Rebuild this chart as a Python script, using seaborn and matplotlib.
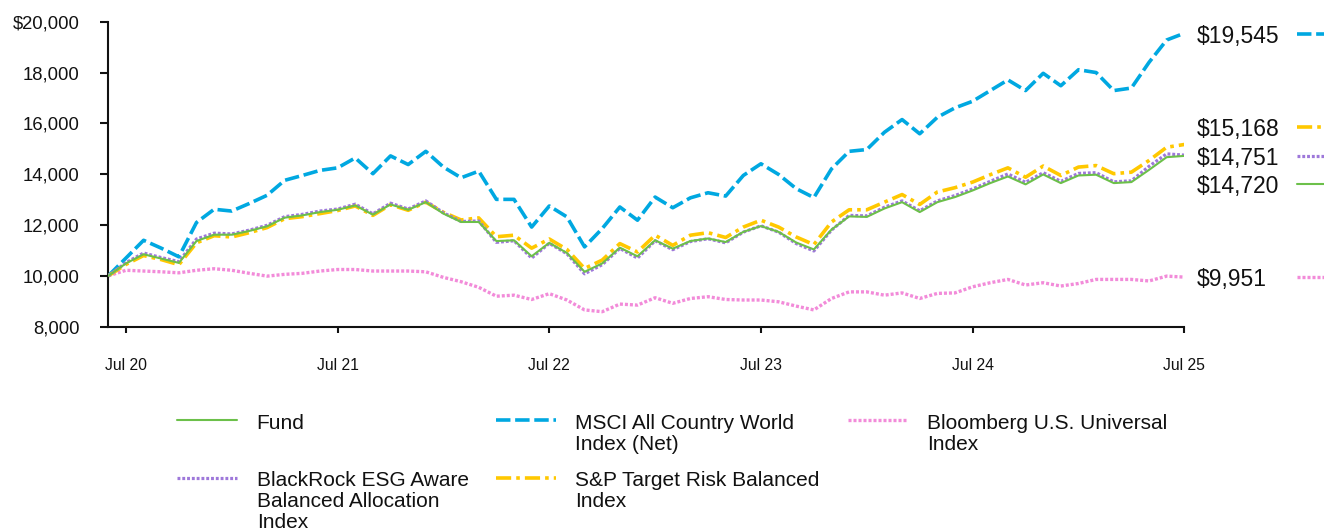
import numpy as np
import pandas as pd
import matplotlib
matplotlib.use("Agg")
import matplotlib.pyplot as plt
from matplotlib.lines import Line2D
from matplotlib.transforms import blended_transform_factory
import seaborn as sns

# ---------------- data ----------------
months = pd.date_range("2020-06-30", periods=62, freq="ME")

fund = [10000, 10490, 10850, 10680, 10510, 11370, 11620, 11620, 11770, 11950,
        12290, 12380, 12510, 12600, 12770, 12410, 12810, 12600, 12900, 12450,
        12120, 12120, 11370, 11400, 10770, 11300, 10900, 10160, 10490, 11110,
        10770, 11400, 11070, 11370, 11470, 11330, 11730, 11960, 11730, 11310,
        11040, 11820, 12340, 12320, 12650, 12900, 12510, 12900, 13100, 13360,
        13650, 13910, 13600, 13990, 13650, 13950, 13980, 13650, 13690, 14170,
        14670, 14720]

msci = [10000, 10700, 11400, 11090, 10750, 12100, 12620, 12550, 12850, 13170,
        13760, 13950, 14150, 14250, 14640, 14020, 14720, 14380, 14900, 14280,
        13860, 14120, 13010, 13010, 11920, 12750, 12320, 11140, 11860, 12710,
        12190, 13100, 12680, 13070, 13270, 13140, 13950, 14410, 13990, 13430,
        13080, 14210, 14900, 14970, 15650, 16150, 15590, 16240, 16610, 16870,
        17290, 17710, 17290, 17970, 17480, 18110, 18000, 17290, 17390, 18400,
        19280, 19545]

bloomberg = [10000, 10220, 10190, 10160, 10120, 10220, 10280, 10220, 10100, 9990,
             10060, 10100, 10190, 10250, 10250, 10190, 10190, 10190, 10160, 9940,
             9770, 9550, 9200, 9240, 9070, 9300, 9050, 8660, 8590, 8890,
             8850, 9140, 8920, 9110, 9180, 9070, 9050, 9050, 8980, 8810,
             8660, 9110, 9370, 9370, 9240, 9330, 9110, 9310, 9330, 9570,
             9730, 9860, 9640, 9730, 9600, 9700, 9860, 9860, 9860, 9800,
             9990, 9951]

blackrock = [10000, 10520, 10900, 10720, 10560, 11450, 11680, 11650, 11800, 11990,
             12330, 12420, 12550, 12630, 12820, 12440, 12860, 12630, 12950, 12480,
             12140, 12160, 11320, 11380, 10700, 11280, 10870, 10080, 10440, 11080,
             10700, 11380, 11030, 11350, 11460, 11300, 11720, 11970, 11720, 11270,
             10980, 11800, 12380, 12360, 12700, 12950, 12560, 12950, 13160, 13420,
             13720, 14010, 13680, 14060, 13720, 14030, 14060, 13700, 13740, 14310,
             14800, 14751]

sp_balanced = [10000, 10450, 10800, 10640, 10440, 11300, 11580, 11530, 11700, 11900,
               12250, 12330, 12450, 12570, 12750, 12380, 12800, 12580, 12900, 12500,
               12200, 12280, 11540, 11600, 11090, 11450, 11040, 10290, 10620, 11270,
               10940, 11600, 11200, 11600, 11700, 11510, 11920, 12190, 11920, 11530,
               11230, 12120, 12600, 12600, 12900, 13200, 12810, 13300, 13470, 13690,
               13980, 14250, 13880, 14320, 13950, 14280, 14340, 14020, 14080, 14540,
               15060, 15168]

series_names = ["Fund", "MSCI All Country World\nIndex (Net)",
                "Bloomberg U.S. Universal\nIndex",
                "BlackRock ESG Aware\nBalanced Allocation\nIndex",
                "S&P Target Risk Balanced\nIndex"]
end_labels = ["$14,720", "$19,545", "$9,951", "$14,751", "$15,168"]
end_label_pos = [13600, 19510, 9960, 14710, 15850]

ytick_values = [8000, 10000, 12000, 14000, 16000, 18000, 20000]
ytick_labels = ["8,000", "10,000", "12,000", "14,000", "16,000", "18,000", "$20,000"]
xtick_labels = ["Jul 20", "Jul 21", "Jul 22", "Jul 23", "Jul 24", "Jul 25"]

# ---------------- styles ----------------
GREEN = "#6CC04A"
BLUE = "#00A8E1"
PINK = "#F28BD9"
PURPLE = "#9E78DA"
YELLOW = "#FFC800"

styles = {
    "fund": dict(color=GREEN, lw=1.5, ls="-", z=6),
    "msci": dict(color=BLUE, lw=2.6, ls=(0, (4.0, 1.3)), z=3),
    "bloom": dict(color=PINK, lw=2.4, ls=(0, (0.9, 0.6)), z=2),
    "black": dict(color=PURPLE, lw=2.3, ls=(0, (0.9, 0.6)), z=5),
    "sp": dict(color=YELLOW, lw=2.6, ls=(0, (4.2, 1.4, 1.0, 1.4)), z=4),
}
keys = ["fund", "msci", "bloom", "black", "sp"]
values = {"fund": fund, "msci": msci, "bloom": bloomberg,
          "black": blackrock, "sp": sp_balanced}

sns.set_theme(style="white")
plt.rcParams["font.family"] = ["Liberation Sans", "DejaVu Sans"]

W, H = 1324, 529
fig = plt.figure(figsize=(W / 100, H / 100), dpi=100)
fx = lambda px: px / W
fy = lambda py: 1 - py / H

ax = fig.add_axes([fx(108.3), fy(326.7), fx(1184.3) - fx(108.3), fy(21.7) - fy(326.7)])

idx = np.arange(len(months))
for k in keys:
    st = styles[k]
    df = pd.DataFrame({"x": idx, "y": values[k]})
    sns.lineplot(data=df, x="x", y="y", ax=ax, color=st["color"], linewidth=st["lw"],
                 linestyle=st["ls"], estimator=None, legend=False, zorder=st["z"])

ax.set_xlim(0, len(months) - 1)
ax.set_ylim(ytick_values[0], ytick_values[-1])
ax.set_yticks(ytick_values)
ax.set_yticklabels(ytick_labels, fontsize=13.3, color="#111111")
jul_pos = [i for i, m in enumerate(months) if m.month == 7]
ax.set_xticks(jul_pos)
ax.set_xticklabels(xtick_labels, fontsize=11.3, color="#111111")
ax.set_xlabel("")
ax.set_ylabel("")
for s in ["top", "right"]:
    ax.spines[s].set_visible(False)
for s in ["left", "bottom"]:
    ax.spines[s].set_color("#111111")
    ax.spines[s].set_linewidth(1.5)
ax.tick_params(axis="y", direction="out", length=5.8, width=1.5, color="#111111", pad=15, left=True)
ax.tick_params(axis="x", direction="out", length=4.3, width=1.5, color="#111111", pad=18.4, bottom=True)
ax.grid(False)

# ---------------- end labels ----------------
bt = blended_transform_factory(fig.transFigure, ax.transData)
for k, lab, ypos in zip(keys, end_labels, end_label_pos):
    st = styles[k]
    fig.text(fx(1196.7), ypos, lab, transform=bt, fontsize=16.5, va="center_baseline",
             ha="left", color="#111111")
    fig.add_artist(Line2D([fx(1297), fx(1340)], [ypos, ypos], transform=bt,
                          color=st["color"], lw=st["lw"], ls=st["ls"]))

# ---------------- legend (manual) ----------------
handle_x = [177, 496, 848]
text_x = [256.7, 575, 927]
row_handle_y = [420, 478]
row_text_top = [414, 471.5]
placement = {"fund": (0, 0), "msci": (1, 0), "bloom": (2, 0), "black": (0, 1), "sp": (1, 1)}
for k, name in zip(keys, series_names):
    st = styles[k]
    c, r = placement[k]
    fig.add_artist(Line2D([fx(handle_x[c]), fx(handle_x[c] + 60)],
                          [fy(row_handle_y[r]), fy(row_handle_y[r])],
                          transform=fig.transFigure, color=st["color"], lw=st["lw"],
                          ls=st["ls"]))
    fig.text(fx(text_x[c]), fy(row_text_top[r]), name, fontsize=15, va="top",
             ha="left", color="#111111", linespacing=1.1)

fig.savefig("out.png", dpi=100)
